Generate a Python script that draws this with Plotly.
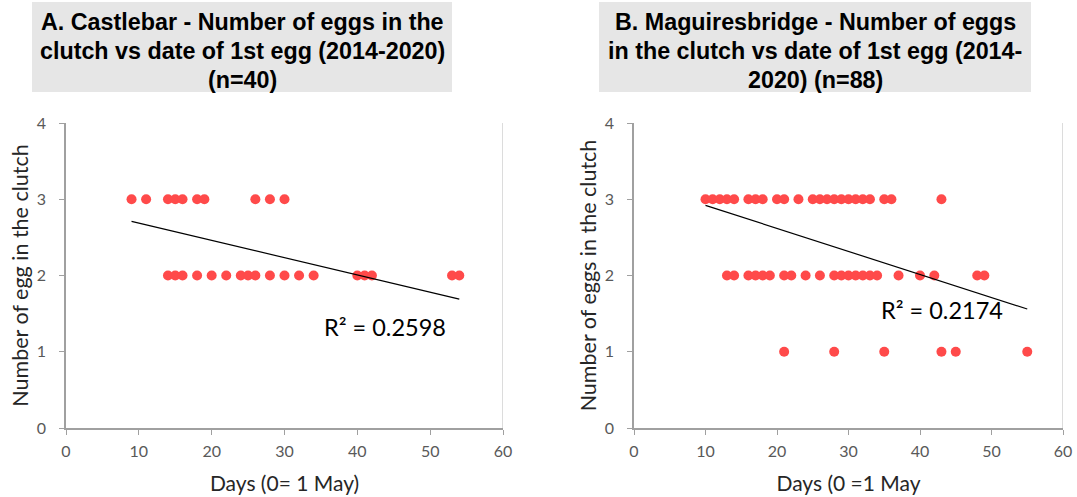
import plotly.graph_objects as go

# ---- Data: A. Castlebar ----
castlebar_days_3 = [9, 11, 14, 15, 16, 18, 19, 26, 28, 30]
castlebar_days_2 = [14, 15, 16, 18, 20, 22, 24, 25, 26, 28, 30, 32, 34, 40, 41, 42, 53, 54]
castlebar_trend_x = [9, 54]
castlebar_trend_y = [2.71, 1.69]
castlebar_r2 = "R² = 0.2598"

# ---- Data: B. Maguiresbridge ----
magu_days_3 = [10, 11, 12, 13, 14, 16, 17, 18, 20, 21, 23, 25, 26, 27, 28, 29, 30,
               31, 32, 33, 35, 36, 43]
magu_days_2 = [13, 14, 16, 17, 18, 19, 21, 22, 24, 26, 28, 29, 30, 31, 32, 33, 34,
               37, 40, 42, 48, 49]
magu_days_1 = [21, 28, 35, 43, 45, 55]
magu_trend_x = [10, 55]
magu_trend_y = [2.92, 1.56]
magu_r2 = "R² = 0.2174"

x_ticks = [0, 10, 20, 30, 40, 50, 60]
y_ticks = [0, 1, 2, 3, 4]

title_a = ["A. Castlebar - Number of eggs in the",
           "clutch vs date of 1st egg (2014-2020)",
           "(n=40)"]
title_b = ["B. Maguiresbridge - Number of eggs",
           "in the clutch vs date of 1st egg (2014-",
           "2020) (n=88)"]
ytitle_a = "Number of egg in the clutch"
ytitle_b = "Number of eggs in the clutch"
xtitle_a = "Days (0= 1 May)"
xtitle_b = "Days (0 =1 May"

W, H = 1077, 497
RED = "#ff4a4a"
AXIS = "#a0a0a0"
TXT = "#595959"
FONT = "Lato, 'Open Sans', sans-serif"


def px(x):
    return x / W


def py(y):
    return 1 - y / H


fig = go.Figure()

marker = dict(color=RED, size=10, line=dict(width=0))


def add_scatter(xs, yval, xa, ya):
    fig.add_trace(go.Scatter(x=xs, y=[yval] * len(xs), mode="markers", marker=marker,
                             xaxis=xa, yaxis=ya, showlegend=False, hoverinfo="x+y"))


add_scatter(castlebar_days_3, 3, "x", "y")
add_scatter(castlebar_days_2, 2, "x", "y")
fig.add_trace(go.Scatter(x=castlebar_trend_x, y=castlebar_trend_y, mode="lines",
                         line=dict(color="black", width=1.2), xaxis="x", yaxis="y",
                         showlegend=False))

add_scatter(magu_days_3, 3, "x2", "y2")
add_scatter(magu_days_2, 2, "x2", "y2")
add_scatter(magu_days_1, 1, "x2", "y2")
fig.add_trace(go.Scatter(x=magu_trend_x, y=magu_trend_y, mode="lines",
                         line=dict(color="black", width=1.2), xaxis="x2", yaxis="y2",
                         showlegend=False))

ydom = [py(428), py(123)]
common_x = dict(range=[0, 60], tickvals=x_ticks, showgrid=False, zeroline=False,
                showline=True, linecolor=AXIS, linewidth=1.5, ticks="outside",
                ticklen=5, tickcolor=AXIS, tickwidth=1.2, automargin=False,
                ticklabelstandoff=3,
                tickfont=dict(family=FONT, size=16, color=TXT),
                title_font=dict(family=FONT, size=21, color="#262626"), title_standoff=17)
common_y = dict(range=[0, 4], tickvals=y_ticks, showgrid=False, zeroline=False,
                showline=True, linecolor=AXIS, linewidth=1.5, ticks="outside",
                ticklen=5, tickcolor=AXIS, tickwidth=1.2, automargin=False,
                ticklabelstandoff=10,
                tickfont=dict(family=FONT, size=16, color=TXT),
                title_font=dict(family=FONT, size=21.5, color="#262626"), title_standoff=2)

fig.update_layout(
    width=W, height=H, margin=dict(l=0, r=0, t=0, b=0),
    paper_bgcolor="white", plot_bgcolor="white",
    xaxis=dict(domain=[px(66), px(503)], anchor="y", title_text=xtitle_a, **common_x),
    yaxis=dict(domain=ydom, anchor="x", title_text=ytitle_a, **common_y),
    xaxis2=dict(domain=[px(634), px(1063)], anchor="y2", title_text=xtitle_b, **common_x),
    yaxis2=dict(domain=ydom, anchor="x2", title_text=ytitle_b, **common_y),
)

shapes = []
# title boxes
shapes.append(dict(type="rect", xref="paper", yref="paper", x0=px(32), x1=px(452),
                   y0=py(92), y1=py(2), fillcolor="#e6e6e6", line=dict(width=0), layer="below"))
shapes.append(dict(type="rect", xref="paper", yref="paper", x0=px(599), x1=px(1031),
                   y0=py(92), y1=py(2), fillcolor="#e6e6e6", line=dict(width=0), layer="below"))
# right-hand plot borders
for xr, yr in (("x", "y domain"), ("x2", "y2 domain")):
    shapes.append(dict(type="line", xref=xr, yref=yr, x0=60, x1=60, y0=0, y1=1,
                       line=dict(color="#d0d0d0", width=1.5)))
fig.update_layout(shapes=shapes)

annotations = []
line_y = [22, 51, 80]
for lines, cx in ((title_a, 242), (title_b, 815)):
    for t, yy in zip(lines, line_y):
        annotations.append(dict(text="<b>" + t + "</b>", xref="paper", yref="paper",
                                x=px(cx), y=py(yy), xanchor="center", yanchor="middle",
                                showarrow=False,
                                font=dict(family="Liberation Sans, Arial, sans-serif",
                                          size=23.3, color="black")))
annotations.append(dict(text=castlebar_r2, xref="x", yref="y", x=35.2, y=1.32,
                        xanchor="left", yanchor="middle", showarrow=False,
                        font=dict(family=FONT, size=23.5, color="black")))
annotations.append(dict(text=magu_r2, xref="x2", yref="y2", x=34.2, y=1.55,
                        xanchor="left", yanchor="middle", showarrow=False,
                        font=dict(family=FONT, size=23.5, color="black")))
fig.update_layout(annotations=annotations)

fig.write_html("out.html", config={"displayModeBar": False},
               post_script="document.body.style.margin='0';document.body.style.padding='0';")
